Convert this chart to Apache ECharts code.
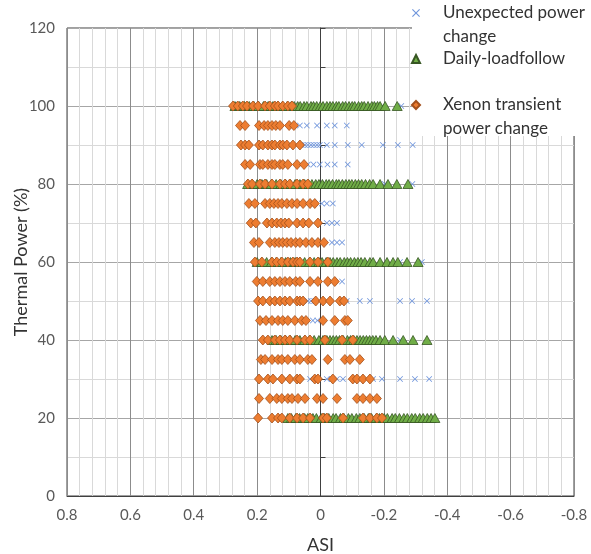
<!DOCTYPE html>
<html>
<head>
<meta charset="utf-8">
<script src="https://cdn.jsdelivr.net/npm/echarts@6/dist/echarts.min.js"></script>
<style>html,body{margin:0;padding:0;background:#fff;}#chart{width:591px;height:554px;}</style>
</head>
<body>
<div id="chart"></div>
<script>
// ---- Data (ASI values per power level) ----
const xTicks = [0.8, 0.6, 0.4, 0.2, 0, -0.2, -0.4, -0.6, -0.8];
const yTicks = [0, 20, 40, 60, 80, 100, 120];

const xenonLevels = [100, 95, 90, 85, 80, 75, 70, 65, 60, 55, 50, 45, 40, 35, 30, 25, 20];
const xenonASI = [
  [0.276, 0.261, 0.245, 0.232, 0.213, 0.197, 0.175, 0.160, 0.144, 0.134, 0.119, 0.103, 0.090],
  [0.254, 0.238, 0.194, 0.178, 0.166, 0.153, 0.141, 0.128, 0.099, 0.084],
  [0.251, 0.238, 0.226, 0.194, 0.182, 0.166, 0.153, 0.144, 0.128, 0.119, 0.106, 0.087, 0.065],
  [0.238, 0.222, 0.191, 0.182, 0.166, 0.153, 0.144, 0.128, 0.119, 0.103, 0.074, 0.052],
  [0.229, 0.216, 0.191, 0.175, 0.153, 0.128, 0.112, 0.097, 0.074, 0.055, 0.040],
  [0.226, 0.207, 0.175, 0.160, 0.147, 0.134, 0.122, 0.106, 0.090, 0.074, 0.055, 0.033, 0.018],
  [0.220, 0.204, 0.169, 0.153, 0.138, 0.125, 0.112, 0.100, 0.074, 0.055, 0.037, 0.008],
  [0.210, 0.194, 0.160, 0.144, 0.131, 0.119, 0.106, 0.093, 0.078, 0.065, 0.046, 0.027, 0.008, -0.011],
  [0.207, 0.185, 0.153, 0.138, 0.122, 0.103, 0.087, 0.074, 0.065, 0.033, 0.008, -0.023],
  [0.201, 0.182, 0.160, 0.144, 0.128, 0.112, 0.097, 0.078, 0.065, 0.033, 0.008, -0.023, -0.045],
  [0.197, 0.182, 0.160, 0.144, 0.128, 0.112, 0.097, 0.074, 0.065, 0.055, 0.015, -0.008, -0.030, -0.061, -0.074],
  [0.191, 0.172, 0.153, 0.134, 0.119, 0.103, 0.081, 0.059, 0.046, -0.008, -0.045, -0.077, -0.086],
  [0.182, 0.166, 0.144, 0.128, 0.112, 0.097, 0.074, 0.049, 0.033, -0.014, -0.068, -0.102],
  [0.188, 0.175, 0.153, 0.134, 0.122, 0.103, 0.081, 0.065, 0.040, 0.027, -0.023, -0.077, -0.093, -0.124],
  [0.194, 0.166, 0.150, 0.122, 0.097, 0.074, 0.065, 0.018, 0.008, -0.039, -0.102, -0.115, -0.134, -0.156],
  [0.194, 0.160, 0.138, 0.122, 0.103, 0.090, 0.071, 0.049, 0.011, -0.008, -0.052, -0.115, -0.134, -0.156, -0.178],
  [0.197, 0.153, 0.134, 0.122, 0.097, 0.074, 0.055, 0.033, -0.008, -0.020, -0.071, -0.134, -0.156, -0.178, -0.194]
];

const loadfollowLevels = [100, 80, 60, 40, 20];
const loadfollowASI = [
  [0.27, 0.255, 0.24, 0.225, 0.21, 0.195, 0.18, 0.165, 0.15, 0.135, 0.12, 0.105, 0.092, 0.083, 0.072, 0.064, 0.052, 0.043, 0.03, 0.022, 0.012, 0.001, -0.008, -0.02, -0.03, -0.039, -0.05, -0.058, -0.07, -0.079, -0.09, -0.1, -0.108, -0.12, -0.13, -0.138, -0.15, -0.162, -0.17, -0.18, -0.188, -0.204, -0.242],
  [0.23, 0.215, 0.2, 0.185, 0.17, 0.155, 0.14, 0.125, 0.11, 0.095, 0.08, 0.065, 0.05, 0.038, 0.027, 0.015, 0.005, -0.006, -0.018, -0.027, -0.038, -0.05, -0.058, -0.069, -0.08, -0.09, -0.099, -0.11, -0.12, -0.13, -0.142, -0.155, -0.166, -0.188, -0.213, -0.241, -0.276],
  [0.2, 0.185, 0.17, 0.155, 0.14, 0.125, 0.11, 0.095, 0.08, 0.065, 0.05, 0.035, 0.02, 0.005, -0.005, -0.018, -0.03, -0.04, -0.052, -0.062, -0.075, -0.085, -0.095, -0.107, -0.118, -0.128, -0.14, -0.156, -0.166, -0.188, -0.21, -0.229, -0.244, -0.273, -0.308],
  [0.153, 0.14, 0.125, 0.11, 0.095, 0.08, 0.065, 0.05, 0.035, 0.02, 0.005, -0.008, -0.02, -0.03, -0.04, -0.05, -0.06, -0.072, -0.085, -0.095, -0.105, -0.115, -0.125, -0.135, -0.145, -0.155, -0.165, -0.175, -0.188, -0.203, -0.229, -0.261, -0.292, -0.336],
  [0.103, 0.092, 0.078, 0.066, 0.05, 0.04, 0.024, 0.013, -0.002, -0.013, -0.026, -0.04, -0.049, -0.063, -0.074, -0.088, -0.099, -0.113, -0.124, -0.138, -0.151, -0.161, -0.176, -0.186, -0.201, -0.211, -0.226, -0.236, -0.249, -0.263, -0.274, -0.288, -0.299, -0.313, -0.324, -0.337, -0.349, -0.361]
];

const unexpectedLevels = [100, 95, 90, 85, 80, 75, 70, 65, 60, 55, 50, 45, 40, 30];
const unexpectedASI = [
  [-0.18, -0.195, -0.255],
  [0.065, 0.043, 0.011, -0.020, -0.045, -0.083],
  [0.059, 0.049, 0.040, 0.030, 0.021, 0.011, 0.002, -0.020, -0.045, -0.086, -0.130, -0.197, -0.244, -0.291],
  [0.040, 0.022, 0.002, -0.022, -0.045, -0.086],
  [-0.203, -0.290],
  [-0.004, -0.020, -0.039],
  [-0.020, -0.036, -0.052],
  [-0.036, -0.052, -0.068],
  [-0.251, -0.320],
  [0.080, -0.068],
  [0.040, 0.030, 0.020, -0.083, -0.124, -0.156, -0.251, -0.289, -0.336],
  [0.024, 0.010],
  [-0.251],
  [0.033, -0.020, -0.036, -0.052, -0.071, -0.166, -0.194, -0.251, -0.298, -0.343]
];

const seriesNames = ['Unexpected power change', 'Daily-loadfollow', 'Xenon transient power change'];
const legendText = {
  'Unexpected power change': '\nUnexpected power\nchange',
  'Daily-loadfollow': 'Daily-loadfollow',
  'Xenon transient power change': '\nXenon transient\npower change'
};

function toPairs(levels, asiRows) {
  const out = [];
  levels.forEach((p, i) => asiRows[i].forEach(a => out.push([a, p])));
  return out;
}

const FONT = 'Lato, "Open Sans", sans-serif';
const crossPath = 'path://M0,1L1,0L5,4L9,0L10,1L6,5L10,9L9,10L5,6L1,10L0,9L4,5Z';

const chart = echarts.init(document.getElementById('chart'), null, {renderer: 'canvas'});
chart.setOption({
  animation: false,
  backgroundColor: '#ffffff',
  grid: {left: 67, right: 17, top: 28, bottom: 58, show: true, borderColor: '#404040', borderWidth: 1,
         containLabel: false, outerBoundsMode: 'none'},
  xAxis: {
    type: 'value', inverse: true, min: -0.8, max: 0.8, interval: 0.2,
    name: 'ASI', nameLocation: 'middle', nameGap: 40, nameMoveOverlap: false,
    nameTextStyle: {fontFamily: FONT, fontSize: 18, color: '#333333'},
    axisLine: {show: true, onZero: false, lineStyle: {color: '#404040'}},
    axisTick: {show: false},
    minorTick: {show: false, splitNumber: 5},
    axisLabel: {fontFamily: FONT, fontSize: 15, color: '#595959', margin: 12,
      formatter: v => { const r = Math.round(v * 10) / 10; return xTicks.includes(r) ? String(r) : ''; }},
    splitLine: {show: true, lineStyle: {color: '#8c8c8c', width: 1}},
    minorSplitLine: {show: true, lineStyle: {color: '#d9d9d9', width: 1}}
  },
  yAxis: {
    type: 'value', min: 0, max: 120, interval: 20,
    name: 'Thermal Power (%)', nameLocation: 'middle', nameGap: 37, nameRotate: 90, nameMoveOverlap: false,
    nameTextStyle: {fontFamily: FONT, fontSize: 18, color: '#333333'},
    axisLine: {show: true, lineStyle: {color: '#404040'}},
    axisTick: {show: true, inside: true, length: 5, lineStyle: {color: '#404040'}},
    minorTick: {show: true, splitNumber: 2, length: 5, lineStyle: {color: '#404040'}},
    axisLabel: {fontFamily: FONT, fontSize: 15, color: '#595959', margin: 12,
      formatter: v => yTicks.includes(v) ? String(v) : ''},
    splitLine: {show: true, lineStyle: {color: '#a6a6a6', width: 1}},
    minorSplitLine: {show: true, lineStyle: {color: '#d9d9d9', width: 1}}
  },
  graphic: [{
    type: 'rect', left: 412, top: 0, z: 100,
    shape: {width: 179, height: 136}, style: {fill: '#ffffff'}
  }],
  legend: {
    z: 200, orient: 'vertical', left: 411, top: -23, padding: 0, itemGap: -2,
    itemWidth: 8, itemHeight: 8,
    data: [
      {name: seriesNames[0], icon: crossPath},
      {name: seriesNames[1], icon: 'triangle'},
      {name: seriesNames[2], icon: 'diamond'}
    ],
    formatter: n => legendText[n],
    textStyle: {fontFamily: FONT, fontSize: 17, lineHeight: 24, color: '#333333', padding: [0, 0, 0, 18]}
  },
  series: [
    {
      name: seriesNames[0], type: 'scatter', z: 2,
      symbol: crossPath, symbolSize: 6,
      itemStyle: {color: '#6f95dc', opacity: 1},
      data: toPairs(unexpectedLevels, unexpectedASI)
    },
    {
      name: seriesNames[1], type: 'scatter', z: 3,
      symbol: 'triangle', symbolSize: [10, 9],
      itemStyle: {color: '#70AD47', borderColor: '#375623', borderWidth: 0.8, opacity: 1},
      data: toPairs(loadfollowLevels, loadfollowASI)
    },
    {
      name: seriesNames[2], type: 'scatter', z: 4,
      symbol: 'diamond', symbolSize: [9, 10],
      itemStyle: {color: '#ED7D31', borderColor: '#A3501C', borderWidth: 0.8, opacity: 1},
      data: toPairs(xenonLevels, xenonASI)
    }
  ]
});
</script>
</body>
</html>
